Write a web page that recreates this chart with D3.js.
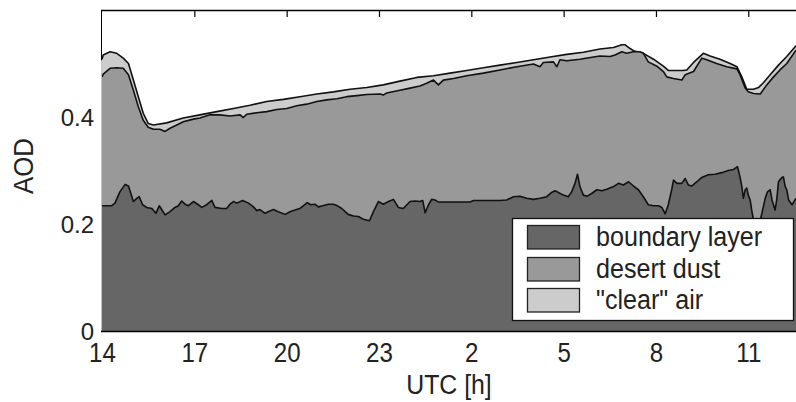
<!DOCTYPE html>
<html><head><meta charset="utf-8">
<script src="https://cdn.jsdelivr.net/npm/d3@7"></script>
<style>
body{margin:0;background:#fff}
svg{display:block}
text{font-family:"Liberation Sans",Arial,Helvetica,sans-serif;fill:#222}
</style>
</head><body>
<svg id="chart" width="796" height="402"></svg>
<script>
// ---- data ----
const seriesNames = ["boundary layer", "desert dust", "\"clear\" air"];
const xTicks = [14, 17, 20, 23, 26, 29, 32, 35];          // hours since 0 UTC of day 1
const xTickLabels = ["14", "17", "20", "23", "2", "5", "8", "11"];
const yTicks = [0, 0.2, 0.4];
const yTickLabels = ["0", "0.2", "0.4"];
const xLabel = "UTC [h]";
const yLabel = "AOD";

// top of the stacked "boundary layer" area (AOD)
const blHours = [14.0,14.31,14.42,14.58,14.75,14.86,15.02,15.13,15.21,15.32,15.45,15.62,15.75,15.86,15.94,16.05,16.21,16.37,16.48,16.59,16.70,16.80,16.97,17.13,17.24,17.40,17.57,17.67,17.89,18.05,18.16,18.27,18.38,18.57,18.76,18.92,19.03,19.13,19.30,19.40,19.57,19.73,19.95,20.11,20.27,20.43,20.54,20.67,20.78,20.92,21.03,21.17,21.36,21.52,21.65,21.79,22.00,22.17,22.33,22.49,22.69,22.82,22.98,23.14,23.31,23.47,23.63,23.79,24.01,24.17,24.33,24.42,24.50,24.61,24.71,24.82,24.93,25.96,26.07,26.93,27.15,27.37,27.58,27.80,28.02,28.23,28.45,28.61,28.72,28.83,28.99,29.15,29.26,29.37,29.45,29.53,29.64,29.77,29.91,30.08,30.24,30.40,30.62,30.78,30.94,31.11,31.27,31.43,31.59,31.75,31.92,32.08,32.19,32.30,32.40,32.51,32.57,32.68,32.84,32.95,33.05,33.16,33.33,33.49,33.70,33.92,34.14,34.35,34.52,34.65,34.73,34.79,34.84,34.90,34.95,35.00,35.06,35.11,35.17,35.25,35.33,35.39,35.44,35.55,35.62,35.71,35.77,35.87,35.93,35.98,36.09,36.14,36.20,36.25,36.31,36.42,36.55];
const blTop = [0.234,0.234,0.239,0.260,0.274,0.271,0.242,0.248,0.251,0.236,0.231,0.229,0.220,0.234,0.227,0.217,0.223,0.231,0.234,0.243,0.237,0.234,0.242,0.236,0.231,0.236,0.244,0.231,0.229,0.229,0.237,0.242,0.239,0.244,0.239,0.232,0.225,0.227,0.220,0.223,0.227,0.223,0.218,0.223,0.226,0.229,0.234,0.240,0.236,0.237,0.232,0.234,0.237,0.237,0.234,0.229,0.218,0.215,0.214,0.209,0.206,0.223,0.242,0.237,0.242,0.246,0.231,0.229,0.242,0.243,0.242,0.244,0.221,0.236,0.246,0.245,0.241,0.241,0.244,0.244,0.245,0.251,0.252,0.248,0.246,0.248,0.251,0.259,0.262,0.259,0.254,0.251,0.260,0.276,0.293,0.270,0.254,0.252,0.257,0.264,0.262,0.265,0.270,0.276,0.273,0.279,0.271,0.264,0.251,0.236,0.234,0.234,0.231,0.219,0.236,0.264,0.282,0.276,0.276,0.285,0.273,0.271,0.279,0.287,0.292,0.293,0.296,0.300,0.302,0.307,0.288,0.270,0.248,0.264,0.267,0.254,0.245,0.226,0.207,0.170,0.170,0.207,0.220,0.248,0.260,0.264,0.245,0.226,0.248,0.279,0.287,0.288,0.270,0.264,0.245,0.236,0.248];

// top of the stacked "desert dust" area (boundary layer + desert dust)
const dustHours = [14.0,14.04,14.26,14.48,14.69,14.86,15.02,15.18,15.34,15.50,15.67,15.88,16.05,16.21,16.43,16.64,16.97,17.18,17.51,17.83,18.16,18.49,18.59,18.70,19.03,19.35,19.68,20.00,20.33,20.65,20.98,21.30,21.63,21.95,22.28,22.60,23.04,23.14,23.25,23.68,24.01,24.33,24.55,24.77,24.93,25.09,25.42,25.85,26.39,26.93,27.48,28.02,28.23,28.34,28.67,28.78,28.88,29.10,29.53,29.97,30.18,30.51,30.67,30.89,31.05,31.27,31.48,31.59,31.75,32.03,32.24,32.35,32.57,32.84,32.95,33.22,33.49,33.65,33.97,34.30,34.63,34.73,34.90,35.00,35.17,35.39,35.60,35.82,36.03,36.25,36.55];
const dustTop = [0.475,0.480,0.491,0.492,0.491,0.479,0.450,0.419,0.394,0.381,0.377,0.377,0.373,0.379,0.385,0.391,0.396,0.398,0.404,0.404,0.402,0.404,0.399,0.405,0.408,0.410,0.414,0.416,0.421,0.424,0.429,0.432,0.434,0.438,0.440,0.442,0.443,0.441,0.445,0.450,0.454,0.458,0.463,0.469,0.460,0.469,0.472,0.477,0.482,0.488,0.494,0.499,0.494,0.502,0.503,0.494,0.507,0.505,0.508,0.512,0.514,0.513,0.516,0.522,0.519,0.522,0.522,0.519,0.503,0.495,0.485,0.475,0.472,0.469,0.479,0.485,0.510,0.507,0.500,0.494,0.490,0.479,0.454,0.447,0.444,0.443,0.460,0.475,0.488,0.500,0.525];

// top of the stacked "clear air" area (total AOD)
const totalHours = [14.0,14.04,14.26,14.48,14.69,14.86,15.02,15.18,15.34,15.50,15.67,16.10,16.64,17.18,17.73,18.27,18.81,19.35,19.89,20.43,20.98,21.52,22.06,22.60,23.14,23.68,24.23,24.77,25.31,25.85,26.39,26.93,27.48,28.02,28.56,29.10,29.64,30.18,30.62,30.89,31.00,31.16,31.27,31.59,31.92,32.24,32.40,32.89,33.00,33.22,33.54,33.76,34.08,34.41,34.63,34.79,34.95,35.17,35.33,35.49,35.71,35.98,36.25,36.55];
const totalTop = [0.508,0.516,0.522,0.519,0.510,0.500,0.469,0.438,0.407,0.388,0.385,0.389,0.398,0.404,0.410,0.416,0.422,0.429,0.433,0.438,0.443,0.447,0.452,0.455,0.460,0.467,0.474,0.477,0.482,0.487,0.492,0.497,0.502,0.507,0.512,0.517,0.521,0.527,0.530,0.535,0.535,0.528,0.524,0.519,0.508,0.495,0.487,0.487,0.488,0.502,0.519,0.514,0.508,0.500,0.494,0.475,0.452,0.452,0.455,0.464,0.479,0.497,0.513,0.533];

// ---- layout / style ----
const colors = ["#666666", "#999999", "#cccccc"];
const plot = {left: 102, right: 796, top: 10, bottom: 331};

const svg = d3.select("#chart");
const x = d3.scaleLinear().domain([14, 36.55]).range([plot.left, plot.right]);
const y = d3.scaleLinear().domain([0, 0.6]).range([plot.bottom, plot.top]);

function fit(sel, factor) {
  sel.each(function () {
    const w = this.getComputedTextLength();
    d3.select(this).attr("textLength", w * factor).attr("lengthAdjust", "spacingAndGlyphs");
  });
}

// left axis line (drawn underneath the areas, like the reference)
svg.append("line").attr("x1", plot.left - 0.5).attr("x2", plot.left - 0.5)
  .attr("y1", plot.top).attr("y2", plot.bottom).attr("stroke", "#000").attr("stroke-width", 1);

const layers = [
  {hours: totalHours, top: totalTop, color: colors[2]},
  {hours: dustHours, top: dustTop, color: colors[1]},
  {hours: blHours, top: blTop, color: colors[0]}
];
const area = d3.area().x(d => x(d[0])).y0(y(0)).y1(d => y(d[1]));
const line = d3.line().x(d => x(d[0])).y(d => y(d[1]));
layers.forEach(L => {
  const pts = d3.zip(L.hours, L.top);
  svg.append("path").datum(pts).attr("d", area).attr("fill", L.color).attr("stroke", "none");
  svg.append("path").datum(pts).attr("d", line).attr("fill", "none")
    .attr("stroke", "#111").attr("stroke-width", 1.6).attr("stroke-linejoin", "round");
});
// light edge on the left side of the filled region (as in the reference)
svg.append("line").attr("x1", plot.left - 0.5).attr("x2", plot.left - 0.5)
  .attr("y1", y(totalTop[0]) + 1).attr("y2", plot.bottom).attr("stroke", "#c4c4c4").attr("stroke-width", 1);

// bottom axis line
svg.append("line").attr("x1", plot.left - 1).attr("x2", plot.right)
  .attr("y1", plot.bottom + 0.5).attr("y2", plot.bottom + 0.5).attr("stroke", "#000").attr("stroke-width", 1.5);
// top axis line with inward ticks
const topAxis = d3.axisTop(x).tickValues(xTicks.slice(1)).tickSize(-7).tickFormat("");
const gTop = svg.append("g").attr("transform", `translate(0,${plot.top})`).call(topAxis);
gTop.select(".domain").attr("d", `M${plot.left - 1},0.5H${plot.right}`).attr("stroke", "#000").attr("stroke-width", 1.5);
gTop.selectAll(".tick line").attr("stroke", "#000").attr("stroke-width", 1.2);

// x tick labels
const xl = svg.append("g").selectAll("text").data(xTicks).join("text")
  .attr("x", d => x(d) + 0.5).attr("y", 362).attr("text-anchor", "middle")
  .attr("font-size", 28).text((d, i) => xTickLabels[i]);
fit(xl, 0.86);

// y tick labels
svg.append("g").selectAll("text").data(yTicks).join("text")
  .attr("x", 94).attr("y", d => y(d) + 8.5).attr("text-anchor", "end")
  .attr("font-size", 24).text((d, i) => yTickLabels[i]);

// axis titles
const xt = svg.append("text").attr("x", (plot.left + plot.right) / 2).attr("y", 394)
  .attr("text-anchor", "middle").attr("font-size", 27).text(xLabel);
fit(xt, 0.92);
svg.append("text").attr("transform", `translate(33,166) rotate(-90)`)
  .attr("text-anchor", "middle").attr("font-size", 27)
  .attr("textLength", 56).attr("lengthAdjust", "spacingAndGlyphs").text(yLabel);

// legend
const leg = svg.append("g");
leg.append("rect").attr("x", 512.5).attr("y", 218.5).attr("width", 281).attr("height", 102)
  .attr("fill", "#fff").attr("stroke", "#111").attr("stroke-width", 1.3);
const rowY = [225, 257, 288];
seriesNames.forEach((name, i) => {
  leg.append("rect").attr("x", 527.5).attr("y", rowY[i] + 0.5).attr("width", 52).attr("height", 23.5)
    .attr("fill", colors[i]).attr("stroke", "#222").attr("stroke-width", 1.3);
  const t = leg.append("text").attr("x", 596).attr("y", rowY[i] + 21).attr("font-size", 27).text(name);
  fit(t, 0.93);
});
</script>
</body></html>
